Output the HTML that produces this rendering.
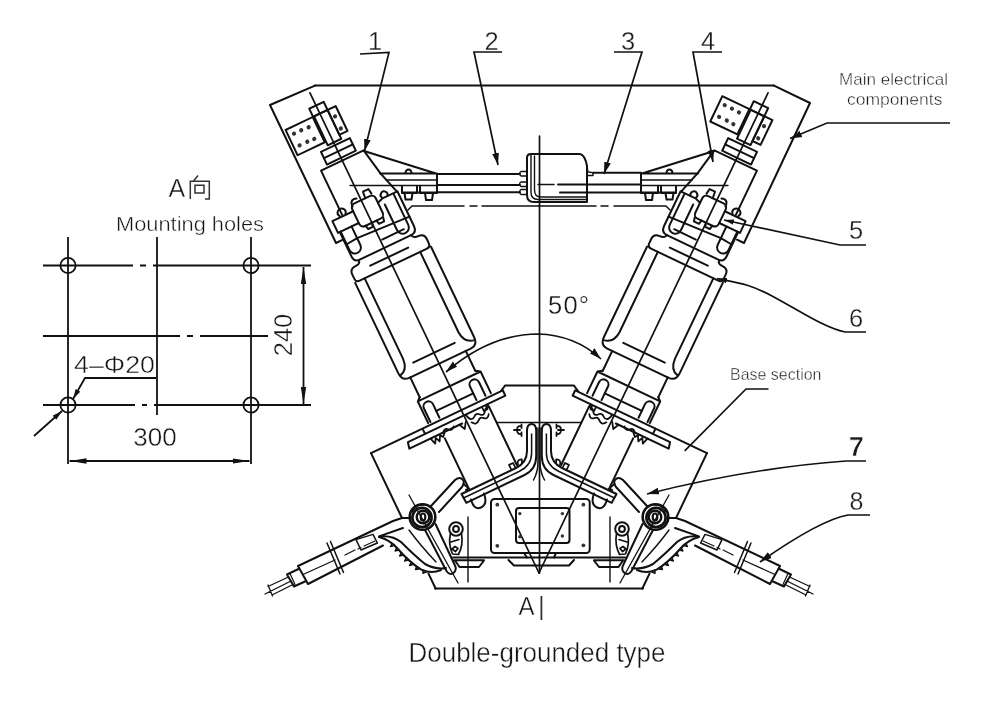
<!DOCTYPE html>
<html><head><meta charset="utf-8">
<style>
html,body{margin:0;padding:0;background:#fff;}
body{width:1000px;height:707px;overflow:hidden;font-family:"Liberation Sans",sans-serif;}
svg{display:block;filter:grayscale(1);}
text{font-family:"Liberation Sans",sans-serif;fill:#3a3a3a;stroke:none;}
.num{font-size:25.5px;fill:#1a1a1a;stroke:#fff;stroke-width:0.3px;paint-order:fill stroke;}
.lab{font-size:16.5px;fill:#333;}
.thin{stroke:#fff;stroke-width:0.42px;paint-order:fill stroke;fill:#141414;}
</style></head><body>
<svg width="1000" height="707" viewBox="0 0 1000 707">
<rect width="1000" height="707" fill="#fff"/>
<defs>
<marker id="ah" viewBox="0 0 12 8" refX="12" refY="4" markerWidth="12" markerHeight="8" orient="auto-start-reverse" markerUnits="userSpaceOnUse"><path d="M0,0.6 L12,4 L0,7.4 Z" fill="#111"/></marker>
<marker id="ahs" viewBox="0 0 10 6" refX="10" refY="3" markerWidth="10" markerHeight="6" orient="auto-start-reverse" markerUnits="userSpaceOnUse"><path d="M0,0.3 L10,3 L0,5.7 Z" fill="#111"/></marker>
<marker id="ad" viewBox="0 0 17 6" refX="17" refY="3" markerWidth="17" markerHeight="6" orient="auto-start-reverse" markerUnits="userSpaceOnUse"><path d="M0,0.3 L17,3 L0,5.7 Z" fill="#111"/></marker>
<!--DEFS--><g id="asm" fill="none" stroke="#111" stroke-width="2" stroke-linejoin="round" stroke-linecap="round">
<!-- axis -->
<line x1="0" y1="-532" x2="0" y2="0" stroke-width="1.7"/>
<!-- housing panel -->

<!-- nut -->
<rect x="-15.5" y="-474" width="32" height="14"/>
<line x1="-15.5" y1="-467" x2="16.5" y2="-467"/>
<!-- body -->
<path d="M-23.5,-408 L-23.5,-457 L23.7,-457 L29,-429 L36,-405"/>
<!-- clamp plate -->
<path d="M-35,-393.5 L-35,-406.5 L-12,-406.5 M-35,-393.5 L-12,-393.5"/>
<path d="M14,-403.5 L20,-405.5 L36.5,-405.5 L36.5,-367 Q36.5,-360 30,-360"/>
<!-- bumps -->
<path d="M-26.2,-408 a4,4 0 1 1 6.3,0.3 M19.8,-406.5 a3.5,3.5 0 1 1 6,0.6"/>
<path d="M4.5,-413 l0.8,-7 l6,0 l0.8,5.5 M-10.5,-411 q0,-8 7,-5.5"/>
<!-- central nut -->
<rect x="-12" y="-413" width="26" height="25" rx="4.5"/>
<path d="M-7,-388 l1,4 h5 l1,-4 M5,-388 l1,4 h5.5 l1,-4"/>
<!-- u-bolts -->
<path d="M-32,-393.5 L-32,-373 a6,6 0 0 0 12,0 L-20,-393.5 M-32,-379.5 L-20,-380.5"/>
<path d="M19.5,-399 L19.5,-370.5 a6.2,6.2 0 0 0 12.4,0 L31.9,-404" />
<path d="M-20,-380.5 L36.5,-377.5"/>
<!-- cap below clamp -->
<path d="M-33,-393.5 L-33,-367 Q-33,-360 -27,-360 L30,-360"/>
<path d="M2,-368.5 L26,-368.5"/>
<!-- flange of insulator -->
<path d="M-28,-360 Q-28,-356 -33,-356 Q-40,-356 -40,-350 L-40,-345 Q-40,-341 -36,-341 L38,-341 Q42.5,-341 42.5,-345 L42.5,-350 Q42.5,-356 36,-356 Q31,-356 30,-360"/>
<line x1="-20" y1="-350" x2="22" y2="-350"/>
<!-- insulator body -->
<path d="M-41,-341 L-41,-241 Q-41,-232 -33,-232 L35,-232 Q43,-232 43,-241 L43,-341"/>
<path d="M-30.5,-341 L-30.5,-252 Q-31,-240 -40,-238"/>
<path d="M31,-341 L31,-252 Q31.5,-240 42,-238"/>
<line x1="-23" y1="-244" x2="23" y2="-244"/>
<!-- neck -->
<path d="M-32,-232 L-32,-210 M29.5,-232 L29.5,-210"/>
<!-- ring -->
<path d="M-32,-210 L-35.5,-207 L-35.5,-183 M29.5,-210 L34,-207 L34,-183 M-35.5,-207 L34,-207"/>
<!-- slots -->
<path d="M-33,-183 L-33,-198 a5,5 0 0 1 10,0 L-23,-183 M18,-183 L18,-198 a5,5 0 0 1 10,0 L28,-183"/>
<path d="M-23,-190.500 L18,-190.500"/>
<!-- flange plates -->
<path d="M-100,-180.5 L46,-180.5 L46,-174.5 L-62,-174.5 L-63.5,-168 L-5,-168 M-43,-180.5 L-43,-174.5"/>
<!-- gasket squiggles -->
<path d="M-40,-168 l2,6.500 l3,-5 l2,5 l3,-5.500 l2,3 l3,-3 M-26,-168 q3,-4 6,-0.500 q3,3 6,-0.500 M-8,-168 l3,6 l4,-6 M2,-174 q2,9 7,5 q3,-3 6,0.500 q3,3.500 6,-1 q2,-3 5,-2 l0,-3 M4,-165 q3,5 7,1.500 q3,-3.500 6,0 q3,3 6,-1.500 M20,-174 v4 h4 v-4" stroke-width="1.8"/>
<!-- cylinder -->
<path d="M-27,-162 L-27,-108 M26.5,-172 L26.5,-107"/>
<path d="M19.5,-105.500 v-5 h4.500 v5 M27.500,-106.500 q1.500,-6 6,-3.500 l-1.500,3" stroke-width="1.7"/>
<!-- base left edge -->
<path d="M-100,-180.5 L-100,-109 M-100,-47 L-100,-30.5"/>
</g>

<g id="term" fill="none" stroke="#111" stroke-width="2" stroke-linejoin="round">
<rect x="-7.5" y="-518" width="16" height="9"/>
<rect x="-6.5" y="-509" width="15" height="32"/>
<rect x="-38" y="-509" width="30" height="28"/>
<rect x="8.5" y="-509" width="9" height="27.5"/>
<g fill="#333" stroke="none">
<circle cx="-32" cy="-502" r="2.1"/><circle cx="-24" cy="-502" r="2.1"/><circle cx="-16" cy="-501.5" r="2.1"/>
<circle cx="-32" cy="-489" r="2.1"/><circle cx="-23.5" cy="-489" r="2.1"/><circle cx="-16" cy="-488.5" r="2.1"/>
<circle cx="12.5" cy="-500" r="2.1"/><circle cx="12.5" cy="-486.5" r="2.1"/>
</g>
</g>

<g id="side" fill="none" stroke="#111" stroke-width="2" stroke-linejoin="round" stroke-linecap="round">
<!-- arm triangle + bus clamp -->
<path d="M364,151 L436,173.5 M380,173.5 H437 V192.5 H402"/>
<path d="M386,180 H436 M350,185.5 H436" stroke-width="1.4"/>
<path d="M405.5,173 a3,3.5 0 0 1 6,0"/>
<path d="M402,186.5 V193 H417 V186.5 M420,186.5 V193 H437 M404.5,193 l1,6.5 h6 l1,-6.5 M425,193 l1,7 h6 l1,-7"/>
<!-- bus bar -->

<!-- dash-dot line -->
<path d="M408,210 L412,206 H464 M470,206 H477 M482,206 H539" stroke-width="1.5"/>
<!-- hook strip -->
<path d="M461.5,494 L516,468 Q527,462.5 527,451 L527,431 Q527,424 531.6,424 Q536.2,424 536.2,431 L536.2,456 Q536.2,469.5 524.5,475 L466.3,502.8 Z"/>
<path d="M463.5,498 L519.5,471.3 Q531.6,465.5 531.6,453 L531.6,434" stroke-width="1.5"/>
<path d="M463.5,484 L469,488.5 L466,490"/>
<!-- bulge below strip -->
<path d="M471,499.5 q3,11 10,8 q7,-3 3,-14"/>
<!-- center piece flare -->
<path d="M538,428 L538,462 Q538,472 533.5,480" stroke-width="1.5"/>
<!-- clip symbol -->
<path d="M521.5,426 q-4.5,-0.5 -4.5,4 q0,4.500 4.500,4 M514,430 h6 M521.5,424.5 v3.500 M521.500,432.5 v3.500" stroke-width="1.8"/>
<!-- link pivot->cylinder -->
<path d="M431,506 L455,480 Q460,476 463,480 Q465,483 462,487 L439,512"/>
<!-- pivot -->
<circle cx="422.5" cy="517" r="12.8" stroke-width="2.6"/><circle cx="422" cy="517.5" r="9.6" stroke-width="2.6"/><circle cx="423" cy="517" r="6.3" stroke-width="2.4"/><ellipse cx="423" cy="517" rx="2.3" ry="3.5" stroke-width="2.2"/><path d="M412,512 q4,-8 12,-7 M415,524 q6,6 14,1" stroke-width="1.6"/>
<path d="M409,495 L458,583" stroke-width="1.3"/>
<!-- grounding blade -->
<path d="M425,530 L446.5,571 Q450,576 454,572.5 Q457,569.5 455,565.5 L435.5,524"/>
<!-- lug -->
<circle cx="456" cy="529" r="6.800"/><circle cx="456" cy="529" r="2.900"/>
<path d="M450.500,533.500 Q448,544 452.500,554 L458.500,554.500 Q463.500,545 461.500,533.500 M451,542 l8,-2.500 M452,549 l3,-2.500 l3,2 l-2.500,3 z" stroke-width="1.700"/>
<!-- vertical line -->
<path d="M468,517 V582" stroke-width="1.4"/>
<!-- feet line -->
<path d="M453,557.500 H539 M454,560.200 H484 M455,560.500 L459.500,567 H479 L484,560.500"/>
<!-- cable arm -->
<path d="M411,518 L402,518 L393,521 L298,566 L308,584 L383,545.5"/>
<path d="M298.5,569 L287,574.5 L294,586.5 L305,581.5"/>
<path d="M288.5,577 L268,586.5 M293,584.5 L272,595 M291,581 L265,594 M268,585 L272.5,596" stroke-width="1.3"/>
<path d="M290,573.5 l5,11" stroke-width="1.2"/>
<path d="M327,543 L340,574 M330.5,541.5 L343.5,572.5" stroke-width="1.5"/>
<path d="M335,560 L303,574.5" stroke-width="1.3"/>
<path d="M375,541 L364,546 M361,547.5 L358,549 M355,550 L345,555" stroke-width="1.2"/>
<path d="M356,539.6 L373,534.4 L377.4,543 L361,550 Z" stroke-width="1.5"/>
<!-- toothed bracket -->
<path d="M403,528 L379,536.4 Q393,535 401,542 Q415,556 425,564 Q436,570 446,568"/>
<path d="M379,537 Q390,540 397,548 Q410,563 422,570 Q432,574 441,570"/>
<path d="M409,530 Q420,545 436,562" stroke-width="1.4"/>
<path d="M392,543.5 l-1.5,3 l3.5,-1 M396.5,548 l-1.5,3 l3.5,-1 M401,553 l-1.5,3 l3.5,-1 M406,558 l-1.5,3 l3.5,-1 M411,562.5 l-1.5,3 l3.5,-1 M416.5,566.5 l-1,3 l3.5,-0.5 M423,570 l0,3.5 l3.5,-1.5" stroke-width="1.3" fill="#333"/>
</g>
<!--/DEFS-->
</defs>

<!-- ===== mounting holes view ===== -->
<g id="mount" fill="none" stroke="#111" stroke-width="1.8">
<line x1="68" y1="237" x2="68" y2="464"/>
<line x1="157" y1="237" x2="157" y2="415"/>
<line x1="251" y1="237" x2="251" y2="464"/>
<path d="M43,265.5 H133 M140,265.5 H146 M153,265.5 H311"/>
<path d="M43,336 H180 M187,336 H193 M200,336 H268"/>
<path d="M43,405 H135 M142,405 H147 M154,405 H311"/>
<circle cx="68" cy="265.5" r="7.6"/><circle cx="251" cy="265.5" r="7.6"/>
<circle cx="68" cy="405" r="7.6"/><circle cx="251" cy="405" r="7.6"/>
<line x1="303.5" y1="267" x2="303.5" y2="404" marker-start="url(#ad)" marker-end="url(#ad)"/>
<line x1="69.5" y1="461" x2="249.5" y2="461" marker-start="url(#ad)" marker-end="url(#ad)"/>
<path d="M156.5,378 H85 L73,399" marker-end="url(#ahs)"/>
<line x1="34" y1="436" x2="62" y2="411" marker-end="url(#ahs)"/>
</g>
<text class="thin" x="283" y="335" font-size="25.5" text-anchor="middle" transform="rotate(-90 283 335)" dy="9">240</text>
<text class="thin" x="155" y="445.5" font-size="26" text-anchor="middle">300</text>
<text class="thin" x="74" y="373" font-size="24" textLength="81" lengthAdjust="spacingAndGlyphs">4–Φ20</text>
<text class="thin" x="168.5" y="197" font-size="25">A</text>
<g fill="none" stroke="#333" stroke-width="1.5"><path d="M190.3,199 V181.2 H209.3 V199 H205 M198,175.5 L193.5,181 M195,185.3 H204 V193 H195 Z"/></g>
<text class="thin" x="116" y="231" font-size="20.5" textLength="148" lengthAdjust="spacingAndGlyphs">Mounting holes</text>

<!-- ===== labels ===== -->
<text class="num" x="375" y="50" text-anchor="middle">1</text>
<text class="num" x="491.5" y="50" text-anchor="middle">2</text>
<text class="num" x="628" y="50" text-anchor="middle">3</text>
<text class="num" x="708" y="50" text-anchor="middle">4</text>
<text class="num" x="856" y="239" text-anchor="middle">5</text>
<text class="num" x="856" y="327" text-anchor="middle">6</text>
<text class="num" x="856.5" y="456" text-anchor="middle" font-weight="bold" style="font-size:27.5px;stroke-width:0.7px">7</text>
<text class="num" x="856.5" y="510" text-anchor="middle" style="font-size:25px">8</text>
<text class="thin" x="548" y="314" font-size="25.5" textLength="41" lengthAdjust="spacing" style="stroke-width:0.3px">50°</text>
<text class="lab thin" x="893.5" y="84.5" text-anchor="middle" textLength="109" lengthAdjust="spacingAndGlyphs">Main electrical</text>
<text class="lab thin" x="894.7" y="105" text-anchor="middle" textLength="95.5" lengthAdjust="spacingAndGlyphs">components</text>
<text class="lab thin" x="730" y="379.8" textLength="91.5" lengthAdjust="spacingAndGlyphs">Base section</text>
<text class="thin" x="518.5" y="614.5" font-size="26" textLength="16" lengthAdjust="spacingAndGlyphs">A</text>
<line x1="541.4" y1="596" x2="541.4" y2="620" stroke="#333" stroke-width="1.8"/>
<text class="thin" x="408.500" y="662" font-size="27" textLength="257" lengthAdjust="spacingAndGlyphs">Double-grounded type</text>

<!-- ===== leaders ===== -->
<g id="leaders" fill="none" stroke="#111" stroke-width="1.7">
<path d="M360,54 L389,52.5 L364.5,151" marker-end="url(#ah)"/>
<path d="M502,52 H474 L498,165" marker-end="url(#ah)"/>
<path d="M614,52 H642 L604,174" marker-end="url(#ah)"/>
<path d="M722,52 H693 L713,162" marker-end="url(#ah)"/>
<path d="M950,123 H827 L790,138.5" marker-end="url(#ah)"/>
<path d="M866,245 H840 Q780,232 724,220" marker-end="url(#ahs)"/>
<path d="M866,332 H845 C825,328 800,311 773.4,296.7 S735,282.5 717,278.5" marker-end="url(#ahs)"/>
<path d="M866,461 H846 Q750,468 647,494" marker-end="url(#ah)"/>
<path d="M870,515 H848 Q820,520 760,562" marker-end="url(#ah)"/>
<path d="M768.5,389 H746 L684.7,450.8"/>
<path d="M446,372 Q490,334 538,334 Q575,335 601,359" marker-start="url(#ah)" marker-end="url(#ah)"/>
</g>

<!-- ===== main drawing ===== -->
<g id="main" fill="none" stroke="#111" stroke-width="2" stroke-linejoin="round" stroke-linecap="round">
<line x1="539.5" y1="136" x2="539.5" y2="573" stroke-width="1.7"/>
<line x1="315" y1="85.6" x2="774" y2="85.6"/>
<!--MAIN-->
<use href="#asm" transform="translate(539,573) rotate(-25.5)"/>
<use href="#asm" transform="translate(539,573) rotate(25.5) scale(-1,1)"/>
<use href="#term" transform="translate(539,573) rotate(-25.5)"/>
<use href="#term" transform="translate(537.5,572) rotate(25.5)"/>
<path d="M315,85.6 L270,105 L336,243 L343,239.7 M774,85.6 L810,103 L744,243 L737,239.7"/>
<use href="#side"/>
<use href="#side" transform="translate(1078,0) scale(-1,1)"/>
<!-- base bottom -->
<path d="M435,588.5 H643"/>
<!-- center trapezoid -->
<path d="M501,391 L505,385.6 H574 L578,391"/>
<path d="M497,422.4 H581" stroke-width="1.5"/>
<!-- panel -->
<rect x="491" y="499" width="98.7" height="54" rx="3.5"/>
<rect x="516" y="508" width="53.5" height="35" rx="3"/>
<g fill="#333" stroke="none"><circle cx="497.3" cy="504.7" r="1.9"/><circle cx="583.4" cy="504.7" r="1.9"/><circle cx="497.3" cy="545.8" r="1.9"/><circle cx="583.4" cy="545.3" r="1.9"/>
<circle cx="519.8" cy="513.6" r="1.7"/><circle cx="562.4" cy="513.6" r="1.7"/><circle cx="519.8" cy="536.7" r="1.7"/><circle cx="562.4" cy="536" r="1.7"/></g>
<!-- center foot -->
<path d="M508.5,560 L514,565.5 H569 L574,560 M524,553 l3,4.5 M556,553 l-2,4.5"/>
<!-- center block (item 3) -->
<path d="M534,202 Q527,202 527,195 L527,158 Q527,154 531,154 L580,154 Q585,155 587,166 L587,202 Z"/>
<path d="M531,155 L531,192 Q531,199.5 538,199.5 L587,199.5 M534.5,156 L534.5,190 Q534.5,197 541,197 L587,197" stroke-width="1.4"/>
<path d="M527,171.5 h-6 q-3,2 0,4.5 h6 M527,182 h-6 q-3,2 0,4.5 h6 M527,189.5 h-6 q-3,2.5 0,5 h6" stroke-width="1.4"/>
<path d="M587,167 L588,172 L593,172.6 V175.5 H588" stroke-width="1.4"/>
<path d="M437,174 H520 M437,185 H520 M437,192.3 H520 M593,172.8 H641 M558,184.6 H641 M560,192.5 H641"/>
<path d="M538,184.4 H554" stroke-width="1.5"/>
<!--/MAIN-->
</g>
</svg>
</body></html>
